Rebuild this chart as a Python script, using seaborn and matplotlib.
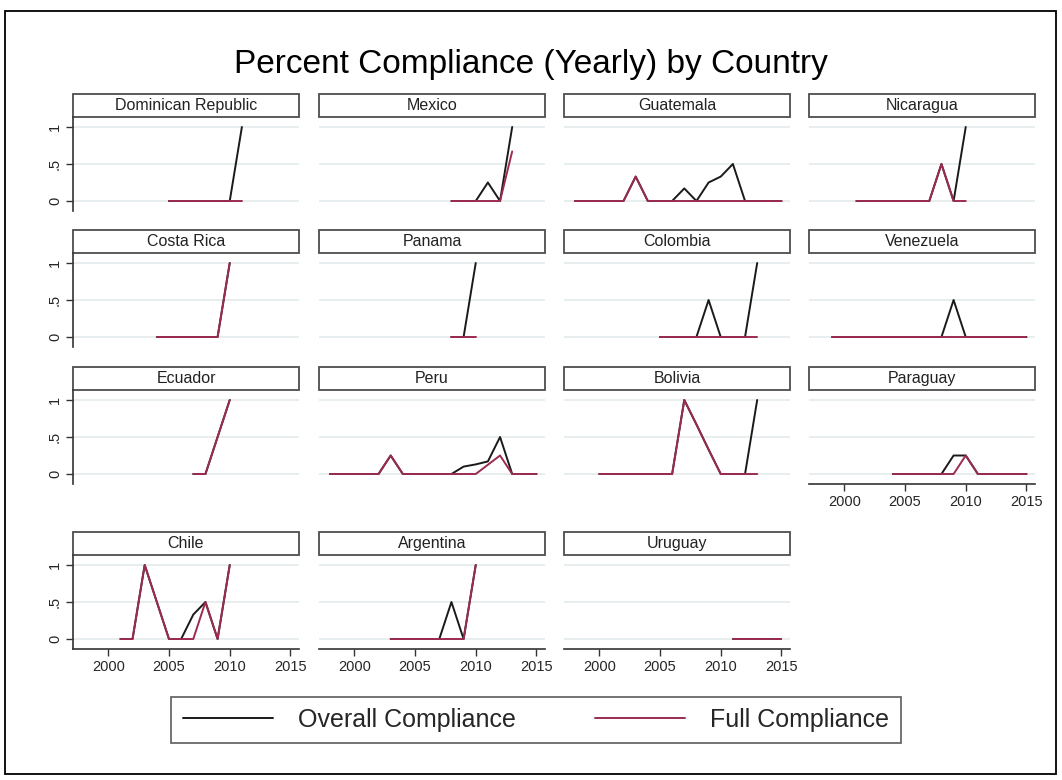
import matplotlib
matplotlib.use("Agg")
import matplotlib.pyplot as plt
from matplotlib.patches import Rectangle
from matplotlib.lines import Line2D
import pandas as pd
import seaborn as sns

# data: first year + yearly shares (overall / full)
dom_rep_start = 2005
dom_rep_overall = [0, 0, 0, 0, 0, 0, 1]
dom_rep_full = [0, 0, 0, 0, 0, 0, 0]

mexico_start = 2008
mexico_overall = [0, 0, 0, 0.25, 0, 1]
mexico_full = [0, 0, 0, 0, 0, 0.67]

guatemala_start = 1998
guatemala_overall = [0, 0, 0, 0, 0, 0.33, 0, 0, 0, 0.17, 0, 0.25, 0.33, 0.5, 0, 0, 0, 0]
guatemala_full = [0, 0, 0, 0, 0, 0.33, 0, 0, 0, 0, 0, 0, 0, 0, 0, 0, 0, 0]

nicaragua_start = 2001
nicaragua_overall = [0, 0, 0, 0, 0, 0, 0, 0.5, 0, 1]
nicaragua_full = [0, 0, 0, 0, 0, 0, 0, 0.5, 0, 0]

costa_rica_start = 2004
costa_rica_overall = [0, 0, 0, 0, 0, 0, 1]
costa_rica_full = [0, 0, 0, 0, 0, 0, 1]

panama_start = 2008
panama_overall = [0, 0, 1]
panama_full = [0, 0, 0]

colombia_start = 2005
colombia_overall = [0, 0, 0, 0, 0.5, 0, 0, 0, 1]
colombia_full = [0, 0, 0, 0, 0, 0, 0, 0, 0]

venezuela_start = 1999
venezuela_overall = [0, 0, 0, 0, 0, 0, 0, 0, 0, 0, 0.5, 0, 0, 0, 0, 0, 0]
venezuela_full = [0, 0, 0, 0, 0, 0, 0, 0, 0, 0, 0, 0, 0, 0, 0, 0, 0]

ecuador_start = 2007
ecuador_overall = [0, 0, 0.5, 1]
ecuador_full = [0, 0, 0.5, 1]

peru_start = 1998
peru_overall = [0, 0, 0, 0, 0, 0.25, 0, 0, 0, 0, 0, 0.1, 0.13, 0.17, 0.5, 0, 0, 0]
peru_full = [0, 0, 0, 0, 0, 0.25, 0, 0, 0, 0, 0, 0, 0, 0.125, 0.25, 0, 0, 0]

bolivia_start = 2000
bolivia_overall = [0, 0, 0, 0, 0, 0, 0, 1, 0.67, 0.33, 0, 0, 0, 1]
bolivia_full = [0, 0, 0, 0, 0, 0, 0, 1, 0.67, 0.33, 0, 0, 0, 0]

paraguay_start = 2004
paraguay_overall = [0, 0, 0, 0, 0, 0.25, 0.25, 0, 0, 0, 0, 0]
paraguay_full = [0, 0, 0, 0, 0, 0, 0.25, 0, 0, 0, 0, 0]

chile_start = 2001
chile_overall = [0, 0, 1, 0.5, 0, 0, 0.33, 0.5, 0, 1]
chile_full = [0, 0, 1, 0.5, 0, 0, 0, 0.5, 0, 1]

argentina_start = 2003
argentina_overall = [0, 0, 0, 0, 0, 0.5, 0, 1]
argentina_full = [0, 0, 0, 0, 0, 0, 0, 1]

uruguay_start = 2011
uruguay_overall = [0, 0, 0, 0, 0]
uruguay_full = [0, 0, 0, 0, 0]

countries = [
    ("Dominican Republic", dom_rep_start, dom_rep_overall, dom_rep_full),
    ("Mexico", mexico_start, mexico_overall, mexico_full),
    ("Guatemala", guatemala_start, guatemala_overall, guatemala_full),
    ("Nicaragua", nicaragua_start, nicaragua_overall, nicaragua_full),
    ("Costa Rica", costa_rica_start, costa_rica_overall, costa_rica_full),
    ("Panama", panama_start, panama_overall, panama_full),
    ("Colombia", colombia_start, colombia_overall, colombia_full),
    ("Venezuela", venezuela_start, venezuela_overall, venezuela_full),
    ("Ecuador", ecuador_start, ecuador_overall, ecuador_full),
    ("Peru", peru_start, peru_overall, peru_full),
    ("Bolivia", bolivia_start, bolivia_overall, bolivia_full),
    ("Paraguay", paraguay_start, paraguay_overall, paraguay_full),
    ("Chile", chile_start, chile_overall, chile_full),
    ("Argentina", argentina_start, argentina_overall, argentina_full),
    ("Uruguay", uruguay_start, uruguay_overall, uruguay_full),
]

rows = []
for name, start, overall, full in countries:
    for i, v in enumerate(overall):
        rows.append((name, start + i, v, "Overall Compliance"))
    for i, v in enumerate(full):
        rows.append((name, start + i, v, "Full Compliance"))
df = pd.DataFrame(rows, columns=["country", "year", "value", "series"])

sns.set_style("white")
plt.rcParams["font.family"] = ["Liberation Sans", "DejaVu Sans"]

BLACK = "#1a1a1a"
RED = "#9b2c4f"
palette = {"Overall Compliance": BLACK, "Full Compliance": RED}

W, H = 1062, 780
fig = plt.figure(figsize=(W / 100, H / 100), dpi=100)

# outer frame
fig.patches.append(Rectangle((5 / W, 1 - 774 / H), 1051 / W, 763 / H,
                             transform=fig.transFigure, fill=False,
                             edgecolor="black", lw=1.3))

fig.text(0.5, 1 - 64 / H, "Percent Compliance (Yearly) by Country",
         ha="center", va="center", fontsize=24, color="black")

col_left = [73, 319, 564, 809]
panel_w = 226
row_box = [(117, 211), (253, 347), (390, 484), (555, 649)]
bottom_panels = {"Paraguay", "Chile", "Argentina", "Uruguay"}

for k, (name, start, overall, full) in enumerate(countries):
    r, c = divmod(k, 4)
    top, bot = row_box[r]
    ax = fig.add_axes([col_left[c] / W, 1 - bot / H, panel_w / W, (bot - top) / H])
    sub = df[df["country"] == name]
    sns.lineplot(data=sub, x="year", y="value", hue="series",
                 hue_order=["Overall Compliance", "Full Compliance"],
                 palette=palette, lw=1.4, legend=False, ax=ax)
    ax.set_xlim(1997.1, 2015.7)
    ax.set_ylim(-0.135, 1.135)
    ax.set_yticks([0, 0.5, 1])
    ax.set_xticks([2000, 2005, 2010, 2015])
    ax.yaxis.grid(True, color="#e4eaed", lw=1.2)
    ax.set_axisbelow(True)
    ax.set_xlabel("")
    ax.set_ylabel("")
    for s in ax.spines.values():
        s.set_visible(False)

    if c == 0:
        ax.spines["left"].set_visible(True)
        ax.spines["left"].set_color("#333333")
        ax.spines["left"].set_linewidth(1.2)
        ax.set_yticklabels(["0", ".5", "1"], rotation=90, va="center")
        ax.tick_params(axis="y", left=True, length=5, width=1, color="#333333",
                       labelsize=10.5, pad=3)
    else:
        ax.tick_params(axis="y", left=False, labelleft=False)

    if name in bottom_panels:
        ax.spines["bottom"].set_visible(True)
        ax.spines["bottom"].set_color("#333333")
        ax.spines["bottom"].set_linewidth(1.2)
        ax.tick_params(axis="x", bottom=True, length=5, width=1, color="#333333",
                       labelsize=10.5, pad=3)
    else:
        ax.tick_params(axis="x", bottom=False, labelbottom=False)

    # strip header
    sh = 23 / (bot - top)
    ax.add_patch(Rectangle((0, 1), 1, sh, transform=ax.transAxes, clip_on=False,
                           facecolor="white", edgecolor="#4d4d4d", lw=1.3))
    ax.text(0.5, 1 + sh / 2, name, transform=ax.transAxes, ha="center",
            va="center", fontsize=11.5, color="#222222")

handles = [Line2D([], [], color=BLACK, lw=1.4), Line2D([], [], color=RED, lw=1.4)]
leg = fig.legend(handles, ["Overall Compliance", "Full Compliance"],
                 loc="center", bbox_to_anchor=(536 / W, 1 - 720 / H), ncol=2,
                 fontsize=18, frameon=True, fancybox=False, handlelength=3.6,
                 columnspacing=3.2, handletextpad=1.0, borderpad=0.45)
leg.get_frame().set_edgecolor("#333333")
leg.get_frame().set_linewidth(1.2)

fig.savefig("out.png", dpi=100)
